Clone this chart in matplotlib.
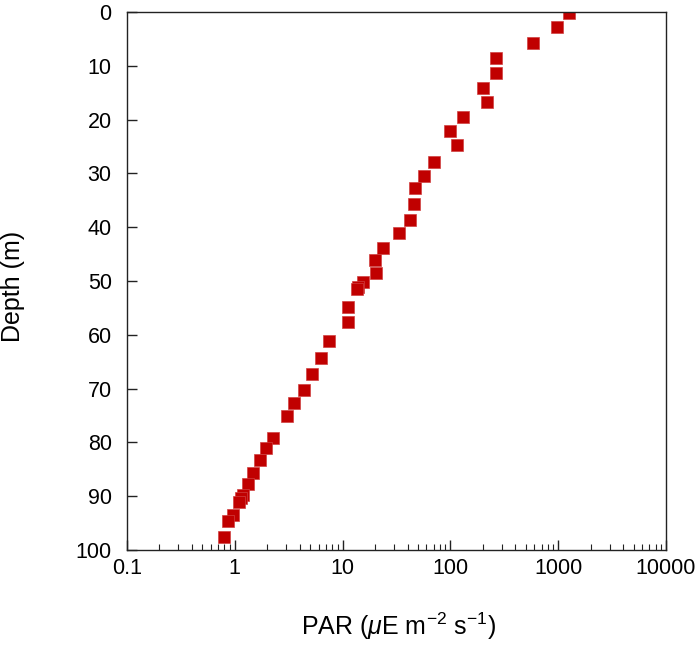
import numpy as np
import matplotlib
matplotlib.use('Agg')
import matplotlib.pyplot as plt
from matplotlib.ticker import LogLocator, FixedLocator, NullFormatter

plt.rcParams['font.family'] = ['Liberation Sans', 'DejaVu Sans']
plt.rcParams['mathtext.fontset'] = 'custom'
plt.rcParams['mathtext.rm'] = 'Liberation Sans'
plt.rcParams['mathtext.it'] = 'Liberation Sans:italic'

# PAR profile
depth = [0.25, 2.85, 5.7, 8.5, 11.3, 14.1, 16.8, 19.5, 22.1, 24.8,
         27.8, 30.5, 32.8, 35.6, 38.6, 41.1, 43.9, 46.1, 48.5, 50.2,
         51.2, 51.5, 54.8, 57.7, 61.2, 64.4, 67.2, 70.3, 72.7, 75.1,
         79.1, 81.0, 83.3, 85.7, 87.7, 89.8, 90.4, 91.0, 93.5, 94.7, 97.6]
par = [1260, 970, 582, 265, 265, 199, 219, 131, 99, 115,
       71, 56.5, 47, 46, 42, 33.4, 23.5, 20.1, 20.4, 15.5,
       14.0, 13.7, 11.2, 11.2, 7.5, 6.35, 5.2, 4.36, 3.56, 3.03,
       2.26, 1.95, 1.70, 1.47, 1.32, 1.18, 1.14, 1.10, 0.97, 0.865, 0.795]

x_ticks = [0.1, 1, 10, 100, 1000, 10000]
x_labels = ['0.1', '1', '10', '100', '1000', '10000']
y_ticks = [0, 10, 20, 30, 40, 50, 60, 70, 80, 90, 100]

fig = plt.figure(figsize=(7, 6.45), dpi=100)
ax = fig.add_axes([127/700, 95/645, 539/700, 538/645])

ax.plot(par, depth, 's', color='#c00000', markersize=8, markeredgewidth=0.5,
        markeredgecolor='#d04040', linestyle='none')

ax.set_xscale('log')
ax.set_xlim(0.1, 10000)
ax.set_ylim(100, 0)

ax.xaxis.set_major_locator(FixedLocator(x_ticks))
ax.set_xticklabels(x_labels)
ax.xaxis.set_minor_locator(LogLocator(base=10, subs=np.arange(2, 10)))
ax.xaxis.set_minor_formatter(NullFormatter())
ax.set_yticks(y_ticks)
ax.set_yticklabels([str(v) for v in y_ticks])

ax.tick_params(axis='both', which='major', direction='in', length=7,
               width=1, labelsize=15.5, color='#222222')
ax.tick_params(axis='x', which='minor', direction='in', length=4.5, width=0.8,
               color='#222222')
ax.tick_params(axis='x', pad=6)
ax.tick_params(axis='y', pad=11)
for s in ax.spines.values():
    s.set_linewidth(1)
    s.set_color('#222222')

ax.set_xlabel(r'PAR ($\mu$E m$^{-2}$ s$^{-1}$)', fontsize=18)
ax.xaxis.set_label_coords(0.503, -0.113)
ax.set_ylabel('Depth (m)', fontsize=18)
ax.yaxis.set_label_coords(-0.19, 0.49)

fig.savefig('out.png', dpi=100)
